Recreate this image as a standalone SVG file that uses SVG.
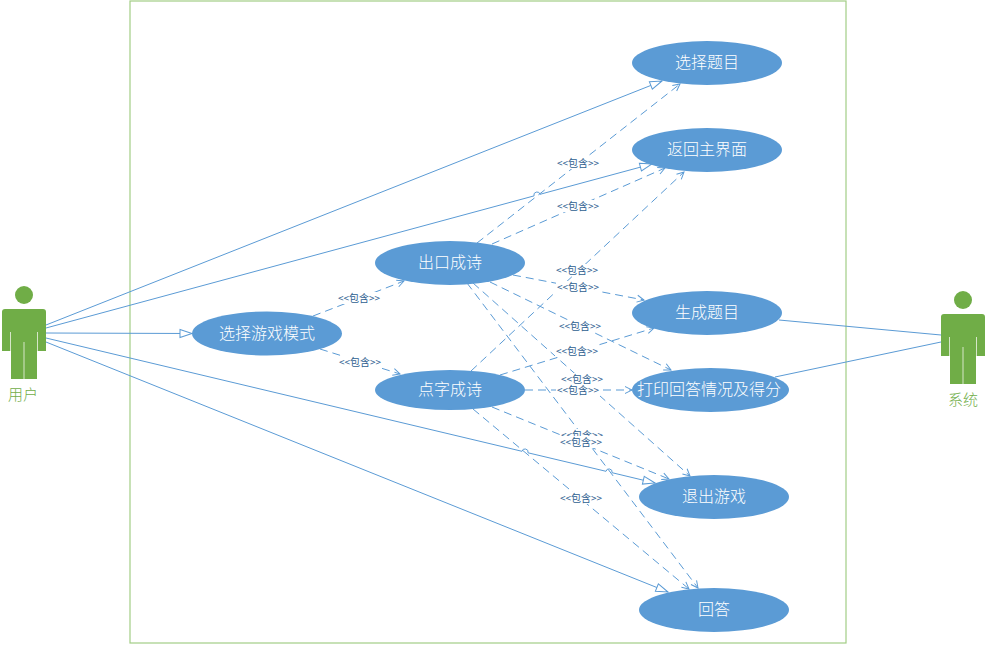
<svg xmlns="http://www.w3.org/2000/svg" width="987" height="648" viewBox="0 0 987 648">
<style>
.cjk{font-family:"Noto Sans CJK SC","Liberation Sans",sans-serif}
.uc text{font-size:16px;font-weight:300;fill:#fff;text-anchor:middle;dominant-baseline:central}
.uc ellipse{fill:#5b9bd5}
.gap{fill:none;stroke:#d5e6c8;stroke-width:1}
.actor text{font-size:15px;font-weight:300;fill:#70ad47;text-anchor:middle;dominant-baseline:central}
.s,.d{fill:none;stroke:#5b9bd5;stroke-width:1}
.s{marker-end:url(#tri)}
.d{stroke-dasharray:8 5;marker-end:url(#open)}
.p{fill:none;stroke:#5b9bd5;stroke-width:1}
.lb rect{fill:#fff}
.lb text{font-size:10px;fill:#2e6090;text-anchor:middle;dominant-baseline:central}
</style>
<defs>
<marker id="tri" markerUnits="userSpaceOnUse" markerWidth="14" markerHeight="12" refX="13" refY="5" orient="auto" overflow="visible"><path d="M1 1L13 5L1 9Z" fill="#fff" stroke="#5b9bd5" stroke-width="1"/></marker>
<marker id="open" markerUnits="userSpaceOnUse" markerWidth="10" markerHeight="10" refX="8" refY="4" orient="auto" overflow="visible"><path d="M1 0.5L8 4L1 7.5" fill="none" stroke="#5b9bd5" stroke-width="1"/></marker>
<g id="man"><circle cx="24" cy="295" r="9"/><path d="M5 309H43Q46 309 46 312V351H38V332H37V379H11V332H10V351H2V312Q2 309 5 309Z"/><path class="gap" d="M24 342V379M10.500 332V351M37.500 332V351"/></g>
</defs>
<rect id="frame" x="130" y="1" width="716" height="642" fill="#fff" stroke="#a2cd85" stroke-width="1.200"/>
<g id="connectors">
<path class="s" d="M46 325L662 81"/>
<path class="s" d="M46 328L534 195.900A3 3 0 0 1 540 194.300L652 164"/>
<path class="s" d="M46 333L192 333.500"/>
<path class="s" d="M46 338L522 451.300A3 3 0 0 1 528 452.800L606 471.300A3 3 0 0 1 612 472.700L655 483"/>
<path class="s" d="M46 342L668 592"/>
<path class="d" d="M313 316L404 281"/>
<path class="d" d="M320 349L400 374"/>
<path class="d" d="M477 243L680 84"/>
<path class="d" d="M492 244L665 168"/>
<path class="d" d="M471 371L684 172"/>
<path class="d" d="M513 275L644 300"/>
<path class="d" d="M500 375L654 328"/>
<path class="d" d="M490 282L671 370"/>
<path class="d" d="M525 390L632 390"/>
<path class="d" d="M473 283L690 476"/>
<path class="d" d="M492 407L669 479"/>
<path class="d" d="M467 283L698 588"/>
<path class="d" d="M473 409L689 589"/>
<path class="p" d="M779 320L941 335"/>
<path class="p" d="M775 377L941 342"/>
<g class="lb cjk">
<rect x="337" y="292" width="44" height="12"/><text x="359" y="297">&lt;&lt;包含&gt;&gt;</text>
<rect x="338" y="356" width="44" height="12"/><text x="360" y="361">&lt;&lt;包含&gt;&gt;</text>
<rect x="556" y="157" width="44" height="12"/><text x="578" y="162">&lt;&lt;包含&gt;&gt;</text>
<rect x="556" y="200" width="44" height="12"/><text x="578" y="205">&lt;&lt;包含&gt;&gt;</text>
<rect x="555" y="264" width="44" height="12"/><text x="577" y="269">&lt;&lt;包含&gt;&gt;</text>
<rect x="556" y="281" width="44" height="12"/><text x="578" y="286">&lt;&lt;包含&gt;&gt;</text>
<rect x="558" y="320" width="44" height="12"/><text x="580" y="325">&lt;&lt;包含&gt;&gt;</text>
<rect x="555" y="345" width="44" height="12"/><text x="577" y="350">&lt;&lt;包含&gt;&gt;</text>
<rect x="560" y="373" width="44" height="12"/><text x="582" y="378">&lt;&lt;包含&gt;&gt;</text>
<rect x="556" y="384" width="44" height="12"/><text x="578" y="389">&lt;&lt;包含&gt;&gt;</text>
<rect x="560" y="429" width="44" height="12"/><text x="582" y="434">&lt;&lt;包含&gt;&gt;</text>
<rect x="559" y="436" width="44" height="12"/><text x="581" y="441">&lt;&lt;包含&gt;&gt;</text>
<rect x="559" y="492" width="44" height="12"/><text x="581" y="497">&lt;&lt;包含&gt;&gt;</text>
</g>
</g>
<g id="user" class="actor cjk"><use href="#man" fill="#70ad47"/><text x="23" y="393">用户</text></g>
<g id="system" class="actor cjk"><use href="#man" x="939" y="5" fill="#70ad47"/><text x="963" y="398">系统</text></g>
<g id="uc-mode" class="uc cjk"><ellipse cx="267" cy="333.500" rx="75" ry="22"/><text x="267" y="331.500">选择游戏模式</text></g>
<g id="uc-chukou" class="uc cjk"><ellipse cx="450" cy="263" rx="75" ry="22"/><text x="450" y="261">出口成诗</text></g>
<g id="uc-dianzi" class="uc cjk"><ellipse cx="450" cy="390" rx="75" ry="20"/><text x="450" y="388">点字成诗</text></g>
<g id="uc-select" class="uc cjk"><ellipse cx="707" cy="63" rx="75" ry="22"/><text x="707" y="61">选择题目</text></g>
<g id="uc-back" class="uc cjk"><ellipse cx="707" cy="150" rx="75" ry="22"/><text x="707" y="148">返回主界面</text></g>
<g id="uc-gen" class="uc cjk"><ellipse cx="707" cy="313" rx="75" ry="22"/><text x="707" y="311">生成题目</text></g>
<g id="uc-print" class="uc cjk"><ellipse cx="710.500" cy="390" rx="78.500" ry="22"/><text x="709" y="388">打印回答情况及得分</text></g>
<g id="uc-exit" class="uc cjk"><ellipse cx="714" cy="497" rx="75" ry="22"/><text x="714" y="495">退出游戏</text></g>
<g id="uc-answer" class="uc cjk"><ellipse cx="714" cy="610" rx="75" ry="22"/><text x="714" y="608">回答</text></g>
</svg>
